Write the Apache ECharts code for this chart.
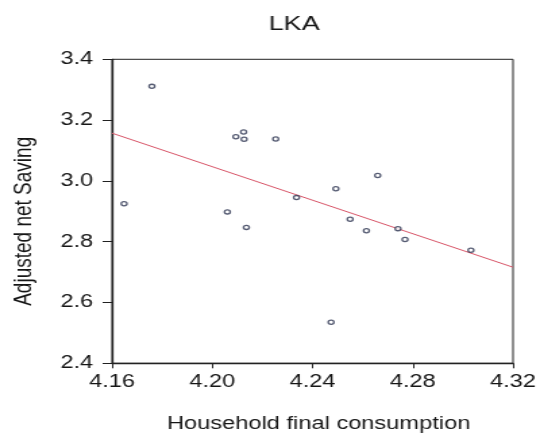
<!DOCTYPE html>
<html>
<head>
<meta charset="utf-8">
<script src="https://cdn.jsdelivr.net/npm/echarts@6/dist/echarts.min.js"></script>
<style>
  html, body { margin: 0; padding: 0; background: #fff; overflow: hidden; }
  /* chart is laid out narrow and widened horizontally */
  #wrap { width: 548px; height: 441px; overflow: hidden; }
  #chart { width: 406px; height: 441px; transform: scaleX(1.35); transform-origin: 0 0; }
</style>
</head>
<body>
<div id="wrap"><div id="chart"></div></div>
<script>
// Household final consumption (x) vs adjusted net saving (y), Sri Lanka
const consumption = [4.1759, 4.1648, 4.2094, 4.2125, 4.2127, 4.2253, 4.2336, 4.2060, 4.2136,
                     4.2660, 4.2493, 4.2550, 4.2615, 4.2741, 4.2769, 4.3032, 4.2474];
const saving      = [3.311, 2.925, 3.145, 3.161, 3.137, 3.138, 2.945, 2.898, 2.847,
                     3.018, 2.974, 2.874, 2.836, 2.843, 2.807, 2.772, 2.535];

// fitted regression line end points
const fitX = [4.16, 4.32];
const fitY = [3.157, 2.716];

const xTicks = { min: 4.16, max: 4.32, step: 0.04 };
const yTicks = { min: 2.4, max: 3.4, step: 0.2 };

const points = consumption.map((x, i) => [x, saving[i]]);
const fitLine = fitX.map((x, i) => [x, fitY[i]]);

const FONT = 'Liberation Sans, Arial, Helvetica, sans-serif';
const INK = '#161616';
const AXIS = '#222';

const chart = echarts.init(document.getElementById('chart'), null, { renderer: 'canvas' });
chart.setOption({
  backgroundColor: '#ffffff',
  animation: false,
  title: {
    text: 'LKA',
    left: 199,
    top: 14,
    padding: 0,
    textStyle: { fontFamily: FONT, fontSize: 20, fontWeight: 'normal', color: INK }
  },
  grid: {
    left: 81.5, top: 59.3, width: 298.5, height: 304,
    show: true, borderColor: AXIS, borderWidth: 1, backgroundColor: 'transparent'
  },
  xAxis: {
    type: 'value',
    min: xTicks.min, max: xTicks.max, interval: xTicks.step,
    name: 'Household final consumption',
    nameLocation: 'middle',
    nameGap: 52,
    nameTextStyle: { fontFamily: FONT, fontSize: 17.5, color: INK, padding: [0, 0, 0, 9] },
    axisLine: { show: true, lineStyle: { color: AXIS, width: 1.3 } },
    axisTick: { show: true, inside: false, length: 5, lineStyle: { color: AXIS, width: 1 } },
    axisLabel: {
      margin: 10, fontFamily: FONT, fontSize: 17.5, color: INK,
      formatter: v => v.toFixed(2)
    },
    splitLine: { show: false }
  },
  yAxis: {
    type: 'value',
    min: yTicks.min, max: yTicks.max, interval: yTicks.step,
    name: 'Adjusted net Saving',
    nameLocation: 'middle',
    nameGap: 56,
    nameRotate: 90,
    nameTextStyle: { fontFamily: FONT, fontSize: 19, color: INK, padding: [0, 20, 0, 0] },
    axisLine: { show: true, lineStyle: { color: AXIS, width: 1.3 } },
    axisTick: { show: true, inside: false, length: 7, lineStyle: { color: AXIS, width: 1 } },
    axisLabel: {
      margin: 14, fontFamily: FONT, fontSize: 17.5, color: INK,
      formatter: v => v.toFixed(1)
    },
    splitLine: { show: false }
  },
  series: [
    {
      type: 'line',
      data: fitLine,
      symbol: 'none',
      lineStyle: { color: '#d9576a', width: 1 },
      z: 2,
      silent: true
    },
    {
      type: 'scatter',
      data: points,
      symbol: 'circle',
      symbolSize: 4.2,
      itemStyle: { color: '#ffffff', borderColor: '#2c3350', borderWidth: 1.3 },
      z: 3
    }
  ]
});
</script>
</body>
</html>
